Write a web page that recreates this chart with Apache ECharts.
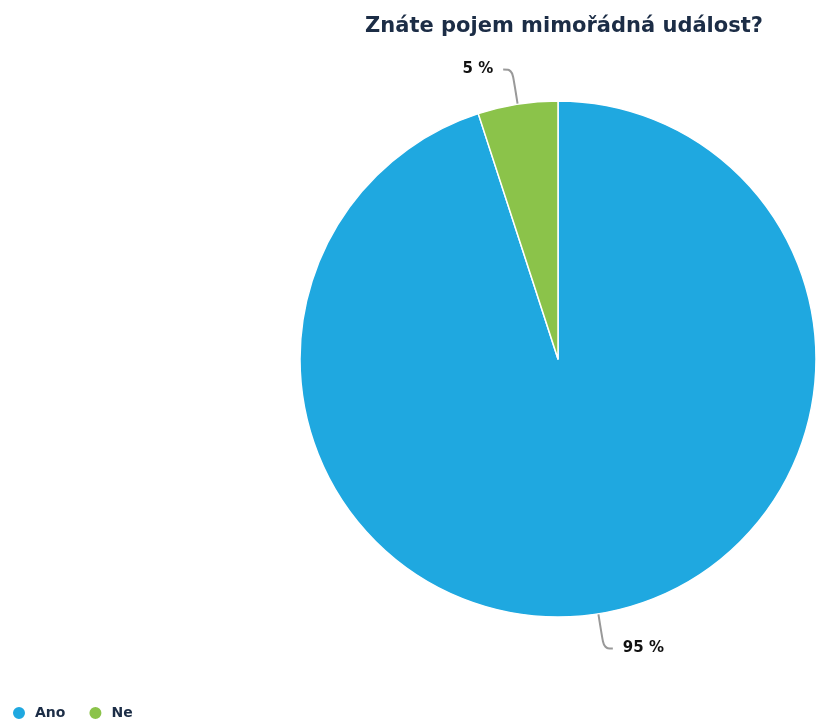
<!DOCTYPE html>
<html>
<head>
<meta charset="utf-8">
<style>
  html, body { margin: 0; padding: 0; background: #fff; }
  #chart { width: 816px; height: 722px; }
</style>
<script src="https://cdn.jsdelivr.net/npm/echarts@6/dist/echarts.min.js"></script>
</head>
<body>
<div id="chart"></div>
<script>
// Survey answers and their shares (percent)
const categories = ['Ano', 'Ne'];
const values = [95, 5];
const colors = ['#1fa8e0', '#8bc34a'];
const titleText = 'Znáte pojem mimořádná událost?';

const chart = echarts.init(document.getElementById('chart'), null, { renderer: 'canvas' });

const fontFamily = '"DejaVu Sans", Verdana, sans-serif';

chart.setOption({
  animation: false,
  title: {
    text: titleText,
    left: 559,
    top: 11,
    textAlign: 'center',
    textStyle: {
      fontFamily: fontFamily,
      fontWeight: 'bold',
      fontSize: 21,
      color: '#1c2d46'
    }
  },
  legend: {
    data: categories,
    left: 11,
    top: 705,
    padding: 0,
    icon: 'circle',
    itemWidth: 14,
    itemHeight: 14,
    itemGap: 22,
    textStyle: {
      fontFamily: fontFamily,
      fontWeight: 'bold',
      fontSize: 14,
      color: '#1c2d46',
      padding: [0, 0, 0, 4]
    }
  },
  series: [{
    type: 'pie',
    center: [558, 359],
    radius: [0, 258],
    startAngle: 90,
    clockwise: true,
    color: colors,
    itemStyle: { borderColor: '#fff', borderWidth: 1.5 },
    label: {
      show: true,
      formatter: p => p.value + ' %',
      fontFamily: fontFamily,
      fontWeight: 'bold',
      fontSize: 15,
      color: '#111',
      distanceToLabelLine: 10
    },
    labelLine: {
      show: true,
      length: 35,
      length2: 9,
      smooth: 0.4,
      lineStyle: { color: '#999', width: 2 }
    },
    data: categories.map((c, i) => ({ name: c, value: values[i] }))
  }]
});
</script>
</body>
</html>
